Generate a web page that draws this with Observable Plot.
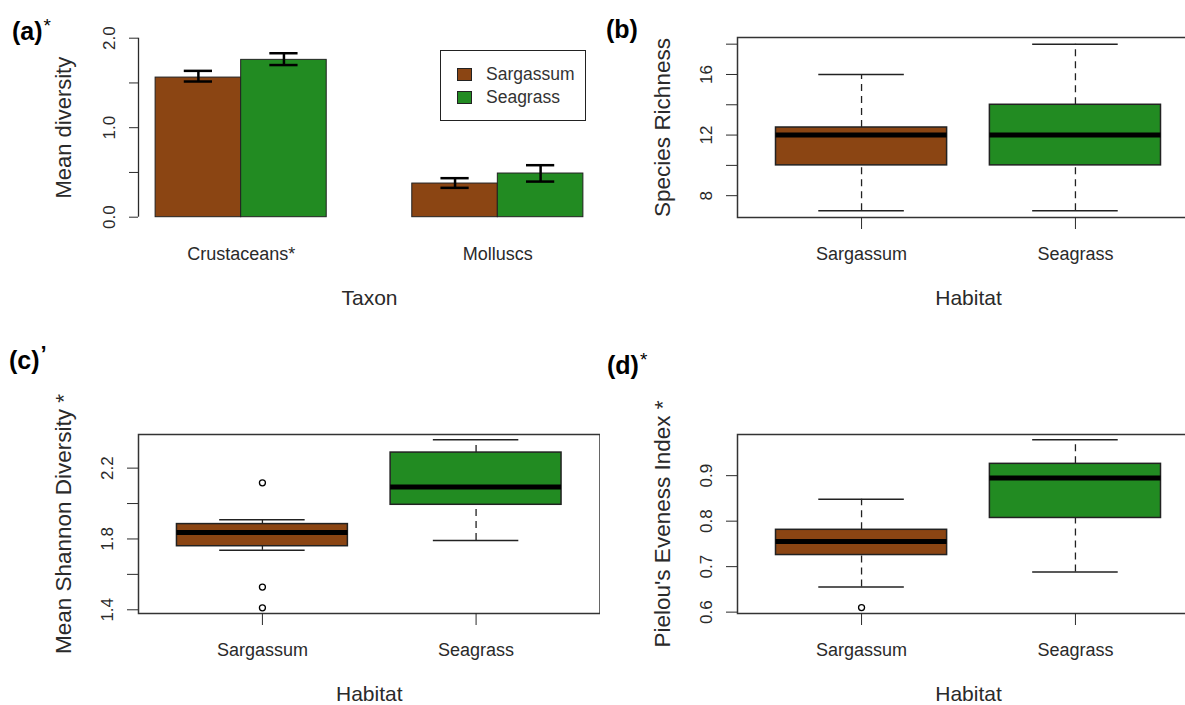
<!DOCTYPE html>
<html><head><meta charset="utf-8">
<script src="https://cdn.jsdelivr.net/npm/d3@7"></script>
<script src="https://cdn.jsdelivr.net/npm/@observablehq/plot@0.6"></script>
<style>
html,body{margin:0;padding:0;background:#fff;overflow:hidden}
#root{position:relative;width:1185px;height:705px;font-family:"Liberation Sans",Arial,sans-serif;overflow:hidden}
.panel{position:absolute}
.panel svg{overflow:hidden}
.lab{position:absolute;font-weight:bold;font-size:25px;line-height:1;color:#000;white-space:nowrap}
.lab sup{font-weight:normal;font-size:19px;vertical-align:top;position:relative;top:-3px;margin-left:1px}
.lab sup.tick{font-weight:bold;font-size:22px;top:-5px}
.legend{position:absolute;border:1px solid #222;background:#fff;font-size:17.5px;color:#333;box-sizing:border-box}
.legend .row{position:absolute;left:16px;display:flex;align-items:center;white-space:nowrap}
.legend .sw{width:13px;height:11px;border:1px solid #222;margin-right:14px}
</style></head><body><div id="root"></div>
<script>
// ---------- data ----------
const habitats = ["Sargassum", "Seagrass"];
const habitatColors = ["#8B4513", "#228B22"];
const taxa = ["Crustaceans*", "Molluscs"];

// (a) mean diversity by taxon with error bars
const meanSargassum = [1.56, 0.376];
const meanSeagrass = [1.758, 0.488];
const errLowSargassum = [1.516, 0.328];
const errHighSargassum = [1.635, 0.436];
const errLowSeagrass = [1.70, 0.398];
const errHighSeagrass = [1.832, 0.581];
const meanTicks = [0, 0.5, 1, 1.5, 2];
const meanTickLabels = [0, 1, 2];

// box statistics: [lower whisker, Q1, median, Q3, upper whisker]
const richnessSargassum = [7, 10, 12, 12.5, 16];
const richnessSeagrass = [7, 10, 12, 14, 18];
const richnessTicks = [8, 10, 12, 14, 16, 18];
const richnessTickLabels = [8, 12, 16];

const shannonSargassum = [1.736, 1.759, 1.836, 1.884, 1.909];
const shannonSeagrass = [1.792, 1.993, 2.093, 2.288, 2.360];
const shannonOutliersSargassum = [2.117, 1.528, 1.411];
const shannonOutliersSeagrass = [];
const shannonTicks = [1.4, 1.6, 1.8, 2.0, 2.2];
const shannonTickLabels = [1.4, 1.8, 2.2];

const pielouSargassum = [0.6555, 0.7255, 0.7555, 0.781, 0.848];
const pielouSeagrass = [0.688, 0.807, 0.895, 0.926, 0.979];
const pielouOutliersSargassum = [0.610];
const pielouOutliersSeagrass = [];
const pielouTicks = [0.6, 0.7, 0.8, 0.9];
const pielouTickLabels = [0.6, 0.7, 0.8, 0.9];

// ---------- helpers ----------
const FONT = '"Liberation Sans", Arial, sans-serif';
const INK = "#2a2a2a";
const root = document.getElementById("root");
function place(node, left, top) {
  const d = document.createElement("div");
  d.className = "panel";
  d.style.left = left + "px";
  d.style.top = top + "px";
  d.appendChild(node);
  root.appendChild(d);
  return d;
}
function label(html, left, top) {
  const d = document.createElement("div");
  d.className = "lab";
  d.innerHTML = html;
  d.style.left = left + "px";
  d.style.top = top + "px";
  root.appendChild(d);
}
const near = (arr, v) => arr.some(a => Math.abs(a - v) < 1e-9);

// ---------- (a) bar chart ----------
(function () {
  const bars = [];
  taxa.forEach((t, g) => {
    [[meanSargassum, errLowSargassum, errHighSargassum], [meanSeagrass, errLowSeagrass, errHighSeagrass]]
      .forEach(([m, lo, hi], s) => bars.push({taxon: t, habitat: habitats[s], pos: g * 3 + s + 1.5, mean: m[g], lo: lo[g], hi: hi[g]}));
  });
  const xDomain = [0.8, 6.2];
  const H = 330;
  const chart = Plot.plot({
    width: 600, height: H,
    marginLeft: 138, marginRight: 0, marginTop: 37.7, marginBottom: H - 216.7,
    x: {domain: xDomain, axis: null},
    y: {domain: [0, 2], axis: null},
    color: {domain: habitats, range: habitatColors},
    style: {fontFamily: FONT, color: INK, background: "transparent"},
    marks: [
      Plot.rect(bars, {x1: d => d.pos - 0.5, x2: d => d.pos + 0.5, y1: 0, y2: "mean", fill: "habitat", stroke: "#222", strokeWidth: 1}),
      Plot.ruleX(bars, {x: "pos", y1: "lo", y2: "hi", stroke: "#000", strokeWidth: 2.5}),
      Plot.ruleY(bars, {y: "lo", x1: d => d.pos - 0.165, x2: d => d.pos + 0.165, stroke: "#000", strokeWidth: 2.5}),
      Plot.ruleY(bars, {y: "hi", x1: d => d.pos - 0.165, x2: d => d.pos + 0.165, stroke: "#000", strokeWidth: 2.5}),
      Plot.ruleX([xDomain[0]], {y1: meanTicks[0], y2: meanTicks[meanTicks.length - 1], stroke: INK, strokeWidth: 1.3}),
      Plot.axisY({ticks: meanTicks, tickSize: 9, tickRotate: -90, tickPadding: 15, fontSize: 17,
        tickFormat: d => near(meanTickLabels, d) ? d.toFixed(1) : "", label: null}),
      Plot.text(taxa, {x: (d, i) => i * 3 + 2, frameAnchor: "bottom", dy: 30, lineAnchor: "top", fontSize: 18, fill: INK}),
      Plot.text(["Taxon"], {frameAnchor: "bottom", dy: 73, lineAnchor: "top", fontSize: 21, fill: INK}),
      Plot.text(["Mean diversity"], {frameAnchor: "left", textAnchor: "middle", dx: -68, rotate: -90, lineAnchor: "bottom", fontSize: 22, fill: INK})
    ]
  });
  place(chart, 0, 0);
  // legend
  const lg = document.createElement("div");
  lg.className = "legend";
  Object.assign(lg.style, {left: "440px", top: "50px", width: "146px", height: "71px"});
  habitats.forEach((h, i) => {
    const r = document.createElement("div");
    r.className = "row";
    r.style.top = (i === 0 ? 13 : 36) + "px";
    r.innerHTML = `<span class="sw" style="background:${habitatColors[i]}"></span><span>${h}</span>`;
    lg.appendChild(r);
  });
  root.appendChild(lg);
})();

// ---------- box-plot panels ----------
function boxPanel({stats, outliers, yDomain, ticks, tickLabels, fmt, yTitle, width, height, top, bottom, left, right}) {
  const rows = habitats.map((h, i) => ({habitat: h, pos: i + 1,
    lo: stats[i][0], q1: stats[i][1], med: stats[i][2], q3: stats[i][3], hi: stats[i][4]}));
  const outs = habitats.flatMap((h, i) => outliers[i].map(v => ({pos: i + 1, v})));
  const stroke = "#222";
  return Plot.plot({
    width, height,
    marginLeft: left, marginRight: right, marginTop: top, marginBottom: height - bottom,
    x: {domain: [0.42, 2.58], axis: null},
    y: {domain: yDomain, axis: null},
    color: {domain: habitats, range: habitatColors},
    style: {fontFamily: FONT, color: INK, background: "transparent", overflow: "hidden"},
    marks: [
      Plot.ruleX(rows, {x: "pos", y1: "q3", y2: "hi", stroke, strokeWidth: 1.3, strokeDasharray: "7,5"}),
      Plot.ruleX(rows, {x: "pos", y1: "lo", y2: "q1", stroke, strokeWidth: 1.3, strokeDasharray: "7,5"}),
      Plot.ruleY(rows, {y: "hi", x1: d => d.pos - 0.2, x2: d => d.pos + 0.2, stroke, strokeWidth: 1.5}),
      Plot.ruleY(rows, {y: "lo", x1: d => d.pos - 0.2, x2: d => d.pos + 0.2, stroke, strokeWidth: 1.5}),
      Plot.rect(rows, {x1: d => d.pos - 0.4, x2: d => d.pos + 0.4, y1: "q1", y2: "q3", fill: "habitat", stroke, strokeWidth: 1.5}),
      Plot.ruleY(rows, {y: "med", x1: d => d.pos - 0.4, x2: d => d.pos + 0.4, stroke: "#000", strokeWidth: 5}),
      Plot.dot(outs, {x: "pos", y: "v", r: 3, stroke: "#000", fill: "none", strokeWidth: 1.3}),
      Plot.frame({stroke: "#333", strokeWidth: 1.5}),
      Plot.axisY({ticks, tickSize: 11, tickRotate: -90, tickPadding: 15, fontSize: 17,
        tickFormat: d => near(tickLabels, d) ? fmt(d) : "", label: null}),
      Plot.axisX({ticks: [1, 2], tickSize: 12, tickPadding: 18, fontSize: 18,
        tickFormat: d => habitats[Math.round(d) - 1], label: null}),
      Plot.text(["Habitat"], {frameAnchor: "bottom", dy: 73, lineAnchor: "top", fontSize: 21, fill: INK}),
      Plot.text([yTitle], {frameAnchor: "left", textAnchor: "middle", dx: -68, rotate: -90, lineAnchor: "bottom", fontSize: 22.5, fill: INK})
    ]
  });
}

place(boxPanel({
  stats: [richnessSargassum, richnessSeagrass], outliers: [[], []],
  yDomain: [6.56, 18.44], ticks: richnessTicks, tickLabels: richnessTickLabels, fmt: d => String(d),
  yTitle: "Species Richness", width: 585, height: 330, top: 37, bottom: 217, left: 137, right: -14
}), 600, 0);

place(boxPanel({
  stats: [shannonSargassum, shannonSeagrass], outliers: [shannonOutliersSargassum, shannonOutliersSeagrass],
  yDomain: [1.379, 2.390], ticks: shannonTicks, tickLabels: shannonTickLabels, fmt: d => d.toFixed(1),
  yTitle: "Mean Shannon Diversity *", width: 600, height: 375, top: 104, bottom: 283, left: 138, right: 0.5
}), 0, 330);

place(boxPanel({
  stats: [pielouSargassum, pielouSeagrass], outliers: [pielouOutliersSargassum, pielouOutliersSeagrass],
  yDomain: [0.597, 0.9905], ticks: pielouTicks, tickLabels: pielouTickLabels, fmt: d => d.toFixed(1),
  yTitle: "Pielou's Eveness Index *", width: 585, height: 375, top: 104, bottom: 283, left: 137, right: -14
}), 600, 330);

// panel labels
label("(a)<sup>*</sup>", 12, 19);
label("(b)", 606, 17);
label("(c)<sup class=\"tick\">’</sup>", 9, 348);
label("(d)<sup>*</sup>", 607, 353);
</script>
</body></html>
